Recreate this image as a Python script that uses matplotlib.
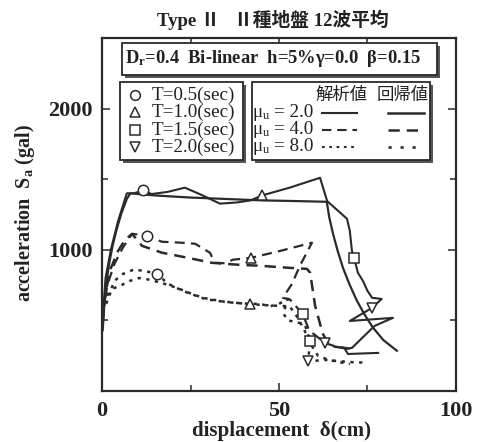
import matplotlib
matplotlib.use("Agg")
import matplotlib.pyplot as plt
from matplotlib.patches import Rectangle
from matplotlib.lines import Line2D

plt.rcParams['font.family'] = ['Liberation Serif', 'Noto Sans CJK JP', 'DejaVu Sans']
plt.rcParams['mathtext.fontset'] = 'custom'
plt.rcParams['mathtext.rm'] = 'Liberation Serif'
plt.rcParams['mathtext.bf'] = 'Liberation Serif:bold'
plt.rcParams['mathtext.it'] = 'Liberation Serif:italic'

# ---------------- data ----------------
# mu = 2.0 analytical (solid, with markers)
ana2_x = [0.3, 1.0, 2.5, 4.5, 7.0, 9.0, 11.6, 14, 18.5, 23.4, 28, 33.3, 38, 42, 45.2, 53, 61.6,
          63.6, 69.2, 70.0, 70.6, 71.2, 72.3, 73.7, 75.0, 76.3, 79.0, 76.3, 70.0, 82.2, 77.0,
          70.6, 68.6, 69.5, 78.0]
ana2_y = [550, 800, 1000, 1200, 1400, 1400, 1420, 1395, 1410, 1440, 1390, 1327, 1335, 1350, 1385,
          1440, 1510, 1345, 1220, 1135, 993, 943, 837, 780, 709, 660, 652, 589, 496, 518, 461,
          305, 298, 262, 270]
# mu = 2.0 regression (solid)
reg2_x = [0.2, 0.6, 1.2, 2.0, 3.0, 4.2, 5.5, 7.0, 8.0, 15, 25, 35, 45, 55, 63.5, 64.2, 65.3,
          66.6, 68.1, 70.0, 72.0, 74.2, 76.5, 79.5, 83.3]
reg2_y = [430, 600, 760, 900, 1030, 1150, 1260, 1360, 1400, 1385, 1370, 1360, 1350, 1345, 1340,
          1230, 1110, 990, 870, 750, 640, 540, 450, 360, 285]
# mu = 4.0 analytical (dashed, with markers)
ana4_x = [0.3, 1.5, 3.5, 6.0, 8.5, 12.7, 16.9, 22.6, 26.3, 30.5, 31.9, 34.7, 37.0, 42.1, 50,
          59.3, 55.9, 53.7, 51.1, 53.0, 56.7, 58.5, 63.0, 66.0, 70.0]
ana4_y = [550, 750, 900, 1020, 1113, 1100, 1057, 1050, 1043, 979, 908, 905, 930, 943, 990,
          1050, 887, 760, 660, 650, 546, 430, 340, 315, 300]
# mu = 4.0 regression (dashed)
reg4_x = [0.2, 1.0, 2.5, 4.5, 6.5, 8.5, 11.3, 17, 24.3, 31, 38, 44.6, 53.1, 57.9, 58.8, 60.2,
          61.6, 62.4, 64.4, 70.0]
reg4_y = [480, 700, 870, 990, 1070, 1113, 1028, 979, 943, 908, 895, 887, 872, 865, 837, 603,
          475, 404, 319, 298]
# mu = 8.0 analytical (dotted, with markers)
ana8_x = [0.3, 2.0, 4.0, 6.0, 9.0, 12.0, 15.5, 18.6, 21.5, 24.3, 29.1, 32.5, 38, 41.8, 44.6,
          47.5, 50.0, 52.5, 51.2, 52.5, 55.3, 57.3, 58.8, 58.2, 63, 70, 75]
ana8_y = [620, 700, 790, 830, 860, 850, 830, 760, 725, 695, 652, 638, 624, 617, 617, 600, 617,
          652, 550, 500, 486, 470, 355, 210, 220, 205, 200]
# mu = 8.0 regression (dotted)
reg8_x = [0.3, 2.8, 5.1, 7.9, 10.5, 13.0, 16.9, 21.2, 24.6, 28.5, 35, 42, 48, 53, 55, 57, 59,
          61, 64, 70]
reg8_y = [560, 723, 745, 780, 800, 790, 765, 730, 695, 660, 630, 615, 605, 600, 530, 440, 330,
          250, 220, 190]

# marker points: index into analytical series for T = 0.5, 1.0, 1.5, 2.0 (sec)
periods = ['T=0.5(sec)', 'T=1.0(sec)', 'T=1.5(sec)', 'T=2.0(sec)']
markers = ['o', '^', 's', 'v']
ana2_mark_idx = [6, 14, 21, 27]
ana4_mark_idx = [5, 13, 20, 22]
ana8_mark_idx = [6, 13, 22, 23]

mu_labels = ['2.0', '4.0', '8.0']

x_ticks = [0, 50, 100]
y_ticks = [1000, 2000]

# ---------------- figure ----------------
W, H = 488, 442
fig = plt.figure(figsize=(W / 100, H / 100), dpi=100)
L, R, T, B = 102, 456, 38, 391
ax = fig.add_axes([L / W, 1 - B / H, (R - L) / W, (B - T) / H])

col = '#2a2a2a'
tcol = '#222222'
dash = (0, (4.5, 2.8))
dot = (0, (1.3, 2.2))

series = [
    (ana2_x, ana2_y, '-', 1.5, ana2_mark_idx),
    (reg2_x, reg2_y, '-', 1.6, None),
    (ana4_x, ana4_y, dash, 1.6, ana4_mark_idx),
    (reg4_x, reg4_y, dash, 1.8, None),
    (ana8_x, ana8_y, dot, 1.8, ana8_mark_idx),
    (reg8_x, reg8_y, dot, 1.8, None),
]
for xs, ys, ls, lw, midx in series:
    ax.plot(xs, ys, linestyle=ls, color=col, lw=lw, zorder=2)
    if midx is not None:
        for m, i in zip(markers, midx):
            ax.plot(xs[i], ys[i], marker=m, ms=7.5, mfc='white', mec=col, mew=1.1,
                    linestyle='none', zorder=3)

ax.set_xlim(0, 100)
ax.set_ylim(0, 2500)
ax.set_xticks(x_ticks)
ax.set_xticklabels([str(v) for v in x_ticks])
ax.set_yticks(y_ticks)
ax.set_yticklabels([str(v) for v in y_ticks])
ax.set_xticks([25, 75], minor=True)
ax.set_yticks([500, 1500], minor=True)
ax.tick_params(which='both', direction='in', top=True, right=True, color=col, width=1.1)
ax.tick_params(which='major', length=6, labelsize=16, pad=7)
ax.tick_params(which='minor', length=4)
for lab in ax.get_xticklabels() + ax.get_yticklabels():
    lab.set_fontweight('bold')
    lab.set_color(tcol)
for sp in ax.spines.values():
    sp.set_linewidth(1.6)
    sp.set_color(col)

fig.text(281 / W, 1 - 431 / H, 'displacement  δ(cm)', ha='center', va='center',
         fontsize=15, fontweight='bold', color=tcol)
fig.text(25 / W, 1 - 213 / H, r'acceleration  S$_\mathbf{a}$ (gal)', ha='center', va='center',
         rotation=90, fontsize=14.5, fontweight='bold', color=tcol)

fig.text(273 / W, 1 - 20 / H, 'Type Ⅱ   Ⅱ種地盤 12波平均', ha='center', va='center',
         fontsize=13.5, fontweight='bold', color=tcol)


def px2ax(px, py):
    return (px - L) / (R - L), (B - py) / (B - T)


def shadow_box(x0, y0, x1, y1, sh=3):
    ax0, ay1 = px2ax(x0, y0)
    ax1, ay0 = px2ax(x1, y1)
    sx, sy = sh / (R - L), sh / (B - T)
    ax.add_patch(Rectangle((ax0 + sx, ay0 - sy), ax1 - ax0, ay1 - ay0, transform=ax.transAxes,
                           facecolor='#555555', edgecolor='none', zorder=4))
    ax.add_patch(Rectangle((ax0, ay0), ax1 - ax0, ay1 - ay0, transform=ax.transAxes,
                           facecolor='white', edgecolor=col, lw=1.3, zorder=5))


# parameter box
shadow_box(122, 43, 437, 75)
tx, ty = px2ax(125, 59)
ax.text(tx, ty, r'D$_\mathbf{r}$=0.4  Bi-linear  h=5%γ=0.0  β=0.15', transform=ax.transAxes,
        ha='left', va='center', fontsize=13.3, fontweight='bold', color=tcol, zorder=6)

# legend 1 (periods)
shadow_box(120, 82, 243, 160)
rows1 = [95, 112, 130, 147]
for m, lab, py in zip(markers, periods, rows1):
    mx, my = px2ax(135, py)
    ax.plot([mx], [my], marker=m, ms=7, mfc='white', mec=col, mew=1.1, transform=ax.transAxes,
            zorder=6, linestyle='none', clip_on=False)
    lx, ly = px2ax(152, py)
    ax.text(lx, ly, lab, transform=ax.transAxes, ha='left', va='center', fontsize=13.8,
            color=tcol, zorder=6)

# legend 2 (mu)
shadow_box(252, 82, 430, 160)
hx, hy = px2ax(342, 95)
ax.text(hx, hy, '解析値', transform=ax.transAxes, ha='center', va='center', fontsize=12.5,
        family='Noto Sans CJK JP', color=tcol, zorder=6)
hx, hy = px2ax(403, 95)
ax.text(hx, hy, '回帰値', transform=ax.transAxes, ha='center', va='center', fontsize=12.5,
        family='Noto Sans CJK JP', color=tcol, zorder=6)
rows2 = [113, 130, 147]
styles = [('-', '-'), (dash, dash), (dot, (0, (1.3, 3.5)))]
for lab, py, (s1, s2) in zip(mu_labels, rows2, styles):
    lx, ly = px2ax(253, py)
    ax.text(lx, ly, 'μ', transform=ax.transAxes, ha='left', va='center',
            fontsize=13.8, color=tcol, zorder=6)
    lx, ly = px2ax(263, py + 3)
    ax.text(lx, ly, 'u', transform=ax.transAxes, ha='left', va='center',
            fontsize=9, color=tcol, zorder=6)
    lx, ly = px2ax(274, py)
    ax.text(lx, ly, '= ' + lab, transform=ax.transAxes, ha='left', va='center',
            fontsize=13.8, color=tcol, zorder=6)
    a0, yy = px2ax(322, py)
    a1, _ = px2ax(357, py)
    ax.add_line(Line2D([a0, a1], [yy, yy], transform=ax.transAxes, color=col, lw=1.5,
                       linestyle=s1, zorder=6))
    b0, _ = px2ax(388, py)
    b1, _ = px2ax(424, py)
    ax.add_line(Line2D([b0, b1], [yy, yy], transform=ax.transAxes, color=col, lw=1.8,
                       linestyle=s2, zorder=6))

fig.savefig('out.png', dpi=100)
